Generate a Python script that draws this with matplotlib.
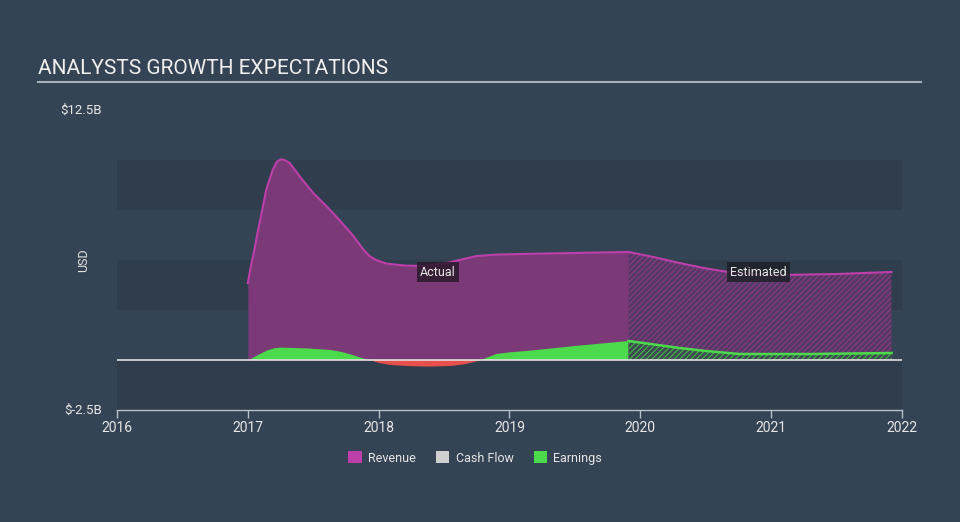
import matplotlib
matplotlib.use("Agg")
import matplotlib.pyplot as plt
from matplotlib.patches import Patch
import numpy as np

plt.rcParams['font.family'] = ['Roboto', 'DejaVu Sans']
plt.rcParams['hatch.linewidth'] = 0.8

# ---- data (values in $B) ----
rev_actual_x = [2017.0, 2017.025, 2017.05, 2017.075, 2017.10, 2017.14, 2017.19, 2017.22, 2017.25,
                2017.28, 2017.32, 2017.4, 2017.5, 2017.6, 2017.7, 2017.8, 2017.88, 2017.93,
                2017.98, 2018.06, 2018.2, 2018.35, 2018.52, 2018.65, 2018.75, 2018.9, 2019.08,
                2019.5, 2019.91]
rev_actual_y = [3.85, 4.75, 5.5, 6.4, 7.17, 8.5, 9.5, 9.9, 10.03,
                10.0, 9.85, 9.15, 8.35, 7.7, 7.0, 6.25, 5.55, 5.2,
                5.0, 4.82, 4.72, 4.7, 4.85, 5.05, 5.2, 5.27, 5.3,
                5.35, 5.4]
rev_est_x = [2019.91, 2020.1, 2020.3, 2020.5, 2020.69, 2020.9, 2021.07, 2021.5, 2021.92]
rev_est_y = [5.4, 5.15, 4.85, 4.58, 4.38, 4.28, 4.25, 4.3, 4.4]

earn_actual_x = [2017.0, 2017.05, 2017.1, 2017.15, 2017.2, 2017.25, 2017.45, 2017.63, 2017.72,
                 2017.8, 2017.87, 2017.93, 2018.0, 2018.09, 2018.25, 2018.39, 2018.55, 2018.65,
                 2018.72, 2018.78, 2018.84, 2018.9, 2019.0, 2019.16, 2019.5, 2019.91]
earn_actual_y = [-0.05, 0.15, 0.32, 0.48, 0.58, 0.62, 0.58, 0.5, 0.4,
                 0.25, 0.1, 0.0, -0.14, -0.25, -0.31, -0.33, -0.3, -0.22,
                 -0.12, 0.0, 0.15, 0.3, 0.38, 0.47, 0.7, 0.95]
earn_est_x = [2019.91, 2020.1, 2020.3, 2020.5, 2020.76, 2021.3, 2021.92]
earn_est_y = [0.95, 0.78, 0.6, 0.45, 0.3, 0.3, 0.35]

year_ticks = [2016, 2017, 2018, 2019, 2020, 2021, 2022]
title = "ANALYSTS GROWTH EXPECTATIONS"
legend_labels = ["Revenue", "Cash Flow", "Earnings"]

# ---- style ----
BG = '#344454'
BAND = '#2f3d4c'
REV_LINE = '#bd3faa'
REV_FILL = '#7b3a77'
REV_EST_FILL = '#553863'
EARN = '#4cd94c'
NEG = '#e8504c'
CASH = '#d0d0d0'
TXT = '#e6e6e6'

W, H = 960, 522
fig = plt.figure(figsize=(W / 100, H / 100), dpi=100, facecolor=BG)
ax = fig.add_axes([117 / W, (H - 410) / H, 785 / W, 300 / H])
ax.set_facecolor(BG)
ax.set_xlim(2016, 2022)
ax.set_ylim(-2.5, 12.5)

for lo, hi in [(7.5, 10), (2.5, 5), (-2.5, 0)]:
    ax.axhspan(lo, hi, color=BAND, zorder=0, lw=0)

# revenue actual
ax.fill_between(rev_actual_x, 0, rev_actual_y, color=REV_FILL, lw=0, zorder=2)
ax.plot(rev_actual_x, rev_actual_y, color=REV_LINE, lw=1.5, zorder=3, solid_joinstyle='round')
# revenue estimated
ax.fill_between(rev_est_x, 0, rev_est_y, facecolor=REV_EST_FILL, edgecolor='#8a3c86',
                hatch='//////', lw=0, zorder=2)
ax.plot(rev_est_x, rev_est_y, color=REV_LINE, lw=1.5, zorder=3, solid_joinstyle='round')

# earnings actual
ex = np.array(earn_actual_x)
ey = np.array(earn_actual_y)
ax.fill_between(ex, 0, ey, where=ey >= 0, interpolate=True, color=EARN, lw=0, zorder=4)
ax.fill_between(ex, 0, ey, where=ey <= 0, interpolate=True, color=NEG, lw=0, zorder=4)
# earnings estimated
ax.fill_between(earn_est_x, 0, earn_est_y, facecolor='#3d4a50', edgecolor='#45b84a',
                hatch='//////', lw=0, zorder=4)
ax.plot(earn_est_x, earn_est_y, color=EARN, lw=1.8, zorder=5)

# zero line
ax.axhline(0, color='#e0e0e0', lw=1.2, zorder=6)

# axes styling
for s in ['top', 'right', 'left']:
    ax.spines[s].set_visible(False)
ax.spines['bottom'].set_color('#b8c0c8')
ax.spines['bottom'].set_linewidth(1)
ax.set_xticks(year_ticks)
ax.set_xticklabels([str(y) for y in year_ticks])
ax.tick_params(axis='x', colors='#b8c0c8', labelcolor=TXT, labelsize=10, length=6, width=1, pad=2)
ax.set_yticks([])

# y labels
fig.text(102 / W, 1 - 110 / H, "$12.5B", color=TXT, fontsize=9.5, ha='right', va='center')
fig.text(102 / W, 1 - 410 / H, "$-2.5B", color=TXT, fontsize=9.5, ha='right', va='center')
fig.text(84 / W, 1 - 260 / H, "USD", color=TXT, fontsize=9, ha='center', va='center', rotation=90)

# annotations
ax.text(2018.45, 4.4, "Actual", color=TXT, fontsize=9, ha='center', va='center', zorder=8,
        bbox=dict(boxstyle='square,pad=0.25', fc='#2a1a2c', ec='none', alpha=0.85))
ax.text(2020.9, 4.4, "Estimated", color=TXT, fontsize=9, ha='center', va='center', zorder=8,
        bbox=dict(boxstyle='square,pad=0.25', fc='#1e2128', ec='none', alpha=0.85))

# title
fig.text(38 / W, 1 - 68 / H, title, color='#f0f0f0', fontsize=15, ha='left', va='center')
fig.add_artist(plt.Line2D([38 / W, 921 / W], [1 - 82 / H, 1 - 82 / H], color='#a8b0b8', lw=1.5))

# legend
handles = [Patch(facecolor=REV_LINE), Patch(facecolor=CASH), Patch(facecolor=EARN)]
leg = fig.legend(handles, legend_labels, loc='center', bbox_to_anchor=(475 / W, 1 - 458 / H),
                 ncol=3, frameon=False, fontsize=9, handlelength=1.1, handleheight=1.1,
                 handletextpad=0.5, columnspacing=1.6)
for t in leg.get_texts():
    t.set_color(TXT)

fig.savefig("out.png", dpi=100, facecolor=BG)
